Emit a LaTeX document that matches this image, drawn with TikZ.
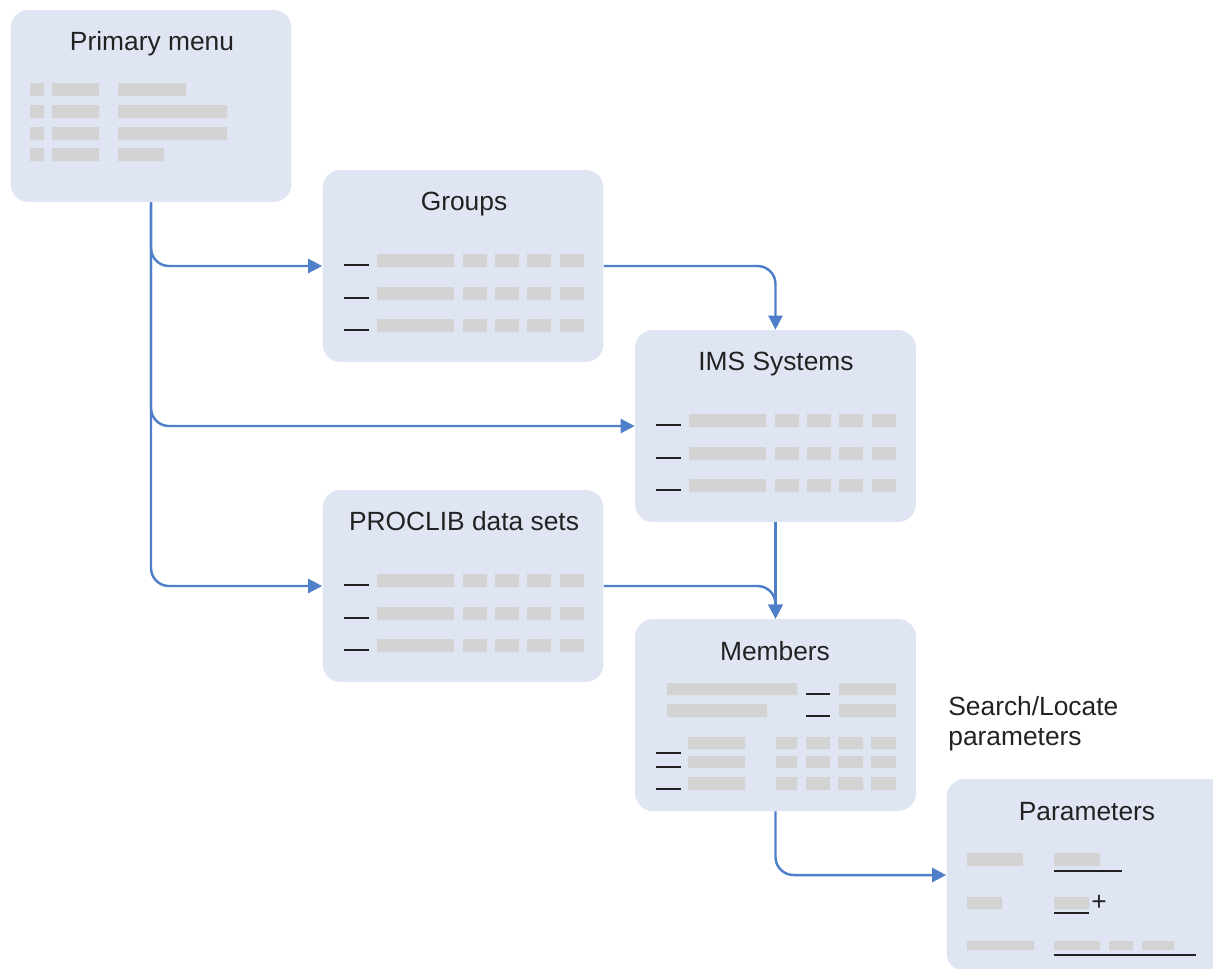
\documentclass[tikz,border=0pt]{standalone}
\usepackage{fontspec}
\setmainfont{Liberation Sans}
\usetikzlibrary{arrows.meta}

\definecolor{boxfill}{HTML}{E0E5F3}
\definecolor{barfill}{HTML}{D3D3D3}
\definecolor{flowblue}{HTML}{4F7FC8}
\definecolor{inkdark}{HTML}{222222}

\begin{document}
\begin{tikzpicture}[x = 0.02cm, y = -0.02cm]
\tikzstyle{PanelStyle}=[fill = boxfill, rounded corners = 0.36cm,
minimum width = 5.62cm, minimum height = 3.84cm, inner sep = 0pt]
\tikzstyle{TitleStyle}=[anchor = base, inner sep = 0pt, text = inkdark,
font = \fontsize{15}{17}\selectfont]
\tikzstyle{BarStyle}=[fill = barfill]
\tikzstyle{DashStyle}=[draw = inkdark, line width = 1.4pt]
\tikzstyle{FlowStyle}=[draw = flowblue, line width = 1.4pt, rounded corners = 0.36cm,
-{Triangle[length = 8pt, width = 8pt]}]
\useasboundingbox (0,0) rectangle (1213,968);
\clip (0,0) rectangle (1213,968);
\node[PanelStyle] (primary) at (151,106) {};
\node[PanelStyle] (groups) at (463,266) {};
\node[PanelStyle] (ims) at (775.5,426) {};
\node[PanelStyle] (proclib) at (463,586) {};
\node[PanelStyle] (members) at (775.5,715) {};
\node[PanelStyle] (params) at (1087,875) {};
\node[TitleStyle] (primarytitle) at (152,50) {Primary menu};
\node[TitleStyle] (groupstitle) at (464,210) {Groups};
\node[TitleStyle] (imstitle) at (776,370) {IMS Systems};
\node[TitleStyle] (proclibtitle) at (464,530) {PROCLIB data sets};
\node[TitleStyle] (memberstitle) at (775,660) {Members};
\node[TitleStyle] (paramstitle) at (1087,820) {Parameters};
\node[anchor = north west, align = left, inner sep = 0pt, text = inkdark,
font = \fontsize{15}{17}\selectfont] (search) at (948,696) {Search/Locate\\parameters};
% primary menu
\fill[BarStyle] (30,83) rectangle (44,96) (52,83) rectangle (99,96) (118,83) rectangle (186,96);
\fill[BarStyle] (30,105) rectangle (44,118) (52,105) rectangle (99,118) (118,105) rectangle (227,118);
\fill[BarStyle] (30,127) rectangle (44,140) (52,127) rectangle (99,140) (118,127) rectangle (227,140);
\fill[BarStyle] (30,148) rectangle (44,161) (52,148) rectangle (99,161) (118,148) rectangle (164,161);
% groups
\fill[BarStyle] (377,254) rectangle (454,267) (463,254) rectangle (487,267) (495,254) rectangle (519,267) (527,254) rectangle (551,267) (560,254) rectangle (584,267);
\fill[BarStyle] (377,287) rectangle (454,300) (463,287) rectangle (487,300) (495,287) rectangle (519,300) (527,287) rectangle (551,300) (560,287) rectangle (584,300);
\fill[BarStyle] (377,319) rectangle (454,332) (463,319) rectangle (487,332) (495,319) rectangle (519,332) (527,319) rectangle (551,332) (560,319) rectangle (584,332);
\draw[DashStyle] (344,265) -- (369,265);
\draw[DashStyle] (344,298) -- (369,298);
\draw[DashStyle] (344,330) -- (369,330);
% ims systems
\fill[BarStyle] (689,414) rectangle (766,427) (775,414) rectangle (799,427) (807,414) rectangle (831,427) (839,414) rectangle (863,427) (872,414) rectangle (896,427);
\fill[BarStyle] (689,447) rectangle (766,460) (775,447) rectangle (799,460) (807,447) rectangle (831,460) (839,447) rectangle (863,460) (872,447) rectangle (896,460);
\fill[BarStyle] (689,479) rectangle (766,492) (775,479) rectangle (799,492) (807,479) rectangle (831,492) (839,479) rectangle (863,492) (872,479) rectangle (896,492);
\draw[DashStyle] (656,425) -- (681,425);
\draw[DashStyle] (656,458) -- (681,458);
\draw[DashStyle] (656,490) -- (681,490);
% proclib data sets
\fill[BarStyle] (377,574) rectangle (454,587) (463,574) rectangle (487,587) (495,574) rectangle (519,587) (527,574) rectangle (551,587) (560,574) rectangle (584,587);
\fill[BarStyle] (377,607) rectangle (454,620) (463,607) rectangle (487,620) (495,607) rectangle (519,620) (527,607) rectangle (551,620) (560,607) rectangle (584,620);
\fill[BarStyle] (377,639) rectangle (454,652) (463,639) rectangle (487,652) (495,639) rectangle (519,652) (527,639) rectangle (551,652) (560,639) rectangle (584,652);
\draw[DashStyle] (344,585) -- (369,585);
\draw[DashStyle] (344,618) -- (369,618);
\draw[DashStyle] (344,650) -- (369,650);
% members
\fill[BarStyle] (667,683) rectangle (797,695) (839,683) rectangle (896,695);
\fill[BarStyle] (667,704) rectangle (767,717) (839,704) rectangle (896,717);
\draw[DashStyle] (806,694) -- (830,694);
\draw[DashStyle] (806,716) -- (830,716);
\fill[BarStyle] (688,737) rectangle (745,749) (776,737) rectangle (797,749) (806,737) rectangle (830,749) (838,737) rectangle (863,749) (871,737) rectangle (896,749);
\fill[BarStyle] (688,756) rectangle (745,768) (776,756) rectangle (797,768) (806,756) rectangle (830,768) (838,756) rectangle (863,768) (871,756) rectangle (896,768);
\fill[BarStyle] (688,777) rectangle (745,790) (776,777) rectangle (797,790) (806,777) rectangle (830,790) (838,777) rectangle (863,790) (871,777) rectangle (896,790);
\draw[DashStyle] (656,753) -- (681,753);
\draw[DashStyle] (656,767) -- (681,767);
\draw[DashStyle] (656,789) -- (681,789);
% parameters
\fill[BarStyle] (967,853) rectangle (1023,866) (1054,853) rectangle (1100,866);
\fill[BarStyle] (967,897) rectangle (1002,909) (1054,897) rectangle (1089,909);
\fill[BarStyle] (967,941) rectangle (1034,950) (1054,941) rectangle (1100,950) (1109,941) rectangle (1133,950) (1142,941) rectangle (1174,950);
\draw[DashStyle] (1054,871) -- (1122,871);
\draw[DashStyle] (1054,913) -- (1089,913);
\draw[DashStyle] (1054,955) -- (1196,955);
\node[TitleStyle, anchor = center] (plus) at (1099,903) {+};
% flows
\draw[FlowStyle] (primary.south) |- (groups.west);
\draw[FlowStyle] (primary.south) |- (ims.west);
\draw[FlowStyle] (primary.south) |- (proclib.west);
\draw[FlowStyle] (groups.east) -| (ims.north);
\draw[FlowStyle] (ims.south) -- (members.north);
\draw[FlowStyle] (proclib.east) -| (members.north);
\draw[FlowStyle] (members.south) |- (params.west);
\end{tikzpicture}
\end{document}
